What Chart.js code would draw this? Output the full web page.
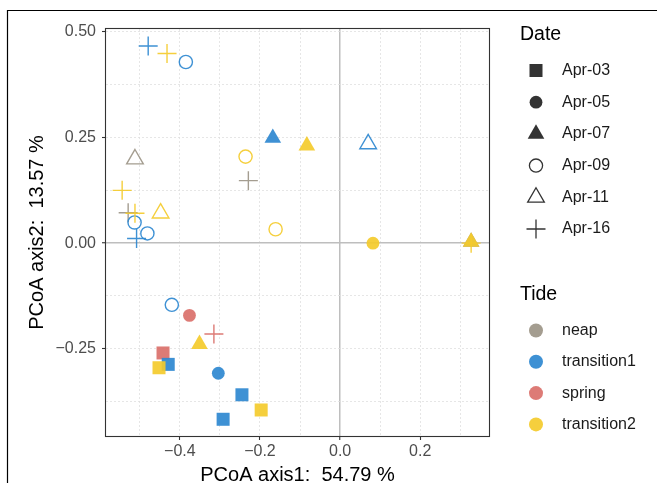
<!DOCTYPE html>
<html>
<head>
<meta charset="utf-8">
<script src="https://cdn.jsdelivr.net/npm/chart.js@4/dist/chart.umd.min.js"></script>
<style>
  html, body { margin: 0; padding: 0; background: #ffffff; }
  canvas { display: block; }
</style>
</head>
<body>
<canvas id="pcoa" width="657" height="483"></canvas>
<script>
// ---------------------------------------------
// PCoA – amostras por maré (Tide) e data (Date)
// ---------------------------------------------

// neap
const neapX    = [-0.512, -0.229, -0.529, 0.327];
const neapY    = [0.199, 0.148, 0.072, 0.003];
const neapDate = ["Apr-11", "Apr-16", "Apr-16", "Apr-07"];

// transition1
const trans1X    = [-0.479, -0.385, -0.168, 0.070, -0.513, -0.481, -0.508, -0.420, -0.429, -0.304, -0.245, -0.292];
const trans1Y    = [0.467, 0.429, 0.249, 0.235, 0.049, 0.023, 0.011, -0.146, -0.287, -0.308, -0.359, -0.417];
const trans1Date = ["Apr-16", "Apr-09", "Apr-07", "Apr-11", "Apr-09", "Apr-09", "Apr-16", "Apr-09", "Apr-03", "Apr-05", "Apr-03", "Apr-03"];

// spring
const springX    = [-0.376, -0.315, -0.442];
const springY    = [-0.171, -0.215, -0.260];
const springDate = ["Apr-05", "Apr-16", "Apr-03"];

// transition2
const trans2X    = [-0.432, -0.083, -0.236, -0.544, -0.512, -0.448, -0.161, 0.082, 0.327, 0.327, -0.351, -0.452, -0.197];
const trans2Y    = [0.449, 0.231, 0.205, 0.125, 0.071, 0.071, 0.033, 0.000, 0.003, 0.000, -0.239, -0.295, -0.395];
const trans2Date = ["Apr-16", "Apr-07", "Apr-09", "Apr-16", "Apr-16", "Apr-11", "Apr-09", "Apr-05", "Apr-07", "Apr-16", "Apr-07", "Apr-03", "Apr-03"];

// legendas
const DATAS = ["Apr-03", "Apr-05", "Apr-07", "Apr-09", "Apr-11", "Apr-16"];
const MARES = ["neap", "transition1", "spring", "transition2"];

// ticks
const X_GRADE  = [-0.5, -0.4, -0.3, -0.2, -0.1, 0, 0.1, 0.2, 0.3];
const X_ROTULO = [-0.4, -0.2, 0, 0.2];
const Y_GRADE  = [-0.375, -0.25, -0.125, 0, 0.125, 0.25, 0.375, 0.5];
const Y_ROTULO = [-0.25, 0, 0.25, 0.5];

// ---------------------------------------------
// Cores e formas
// ---------------------------------------------

const CORES = {
    neap: "rgba(156,149,135,0.92)",
    transition1: "rgba(46,136,208,0.92)",
    spring: "rgba(218,112,106,0.92)",
    transition2: "rgba(244,203,45,0.92)"
};

const FORMA = {
    "Apr-03": {estilo: "rect", raio: 9.2, cheio: true},
    "Apr-05": {estilo: "circle", raio: 6.4, cheio: true},
    "Apr-07": {estilo: "triangle", raio: 9.6, cheio: true},
    "Apr-09": {estilo: "circle", raio: 6.6, cheio: false},
    "Apr-11": {estilo: "triangle", raio: 9.6, cheio: false},
    "Apr-16": {estilo: "cross", raio: 9.5, cheio: false}
};

const FONTE = "'Liberation Sans', Arial, Helvetica, sans-serif";

function perto(a, b){
    return Math.abs(a - b) < 1e-9;
}

function temRotulo(lista, v){
    return lista.some(t => perto(t, v));
}

function montarDataset(nome, xs, ys, datas, ordem){
    const cor = CORES[nome];
    return {
        label: nome,
        order: ordem,
        data: xs.map((x, i) => ({x: x, y: ys[i]})),
        pointStyle: datas.map(d => FORMA[d].estilo),
        pointRadius: datas.map(d => FORMA[d].raio),
        pointHoverRadius: datas.map(d => FORMA[d].raio),
        pointBackgroundColor: datas.map(d => FORMA[d].cheio ? cor : "rgba(0,0,0,0)"),
        pointBorderColor: cor,
        pointBorderWidth: datas.map(d => FORMA[d].cheio ? 0 : 1.4)
    };
}

// ---------------------------------------------
// PLUGIN: moldura, borda do painel e legendas
// ---------------------------------------------

const molduraPlugin = {
    id: "moldura",
    beforeDraw(chart){
        const ctx = chart.ctx;
        ctx.save();
        ctx.strokeStyle = "#000";
        ctx.lineWidth = 1.2;
        ctx.beginPath();
        ctx.moveTo(7.5, 483);
        ctx.lineTo(7.5, 10.5);
        ctx.lineTo(657, 10.5);
        ctx.stroke();
        ctx.restore();
    },
    afterDatasetsDraw(chart){
        const {ctx, chartArea} = chart;
        ctx.save();
        ctx.strokeStyle = "#333333";
        ctx.lineWidth = 1.1;
        ctx.strokeRect(chartArea.left - 0.5, chartArea.top - 0.5,
            chartArea.right - chartArea.left + 1, chartArea.bottom - chartArea.top + 1);
        ctx.restore();
    },
    afterDraw(chart){
        const ctx = chart.ctx;
        const xSimb = 536;
        const xTexto = 562;
        ctx.save();

        // Date
        ctx.fillStyle = "#000";
        ctx.font = "19.5px " + FONTE;
        ctx.textAlign = "left";
        ctx.textBaseline = "middle";
        ctx.fillText("Date", 520, 35);

        DATAS.forEach((d, i) => {
            const y = 70.5 + i * 31.7;
            const f = FORMA[d];
            ctx.fillStyle = f.cheio ? "#333333" : "rgba(0,0,0,0)";
            ctx.strokeStyle = "#333333";
            ctx.lineWidth = 1.3;
            Chart.helpers.drawPoint(ctx, {
                pointStyle: f.estilo,
                radius: f.raio,
                rotation: 0,
                borderWidth: f.cheio ? 0 : 1.3
            }, xSimb, y);
            ctx.fillStyle = "#1A1A1A";
            ctx.font = "16px " + FONTE;
            ctx.fillText(d, xTexto, y);
        });

        // Tide
        ctx.fillStyle = "#000";
        ctx.font = "19.5px " + FONTE;
        ctx.fillText("Tide", 520, 295);

        MARES.forEach((m, i) => {
            const y = 330.5 + i * 31.3;
            ctx.fillStyle = CORES[m];
            ctx.beginPath();
            ctx.arc(xSimb, y, 7, 0, Math.PI * 2);
            ctx.fill();
            ctx.fillStyle = "#1A1A1A";
            ctx.font = "16px " + FONTE;
            ctx.fillText(m, xTexto, y);
        });

        ctx.restore();
    }
};

// ---------------------------------------------
// GRÁFICO
// ---------------------------------------------

const canvas = document.getElementById("pcoa");

new Chart(canvas, {
    type: "scatter",
    data: {
        datasets: [
            montarDataset("transition2", trans2X, trans2Y, trans2Date, 0),
            montarDataset("transition1", trans1X, trans1Y, trans1Date, 1),
            montarDataset("spring", springX, springY, springDate, 2),
            montarDataset("neap", neapX, neapY, neapDate, 3)
        ]
    },
    options: {
        responsive: false,
        animation: false,
        layout: {
            padding: {left: 0, top: 29, right: 168, bottom: 0}
        },
        plugins: {
            legend: {display: false},
            tooltip: {enabled: false}
        },
        scales: {
            x: {
                type: "linear",
                min: -0.5843,
                max: 0.3716,
                afterBuildTicks(scale){
                    scale.ticks = X_GRADE.map(v => ({value: v}));
                },
                afterFit(scale){
                    scale.height = 47;
                },
                border: {
                    display: false,
                    dash: ctx => (ctx.tick && perto(ctx.tick.value, 0)) ? [] : [2, 2]
                },
                grid: {
                    color: ctx => (ctx.tick && perto(ctx.tick.value, 0)) ? "#BEBEBE" : "#E0E0E0",
                    lineWidth: ctx => (ctx.tick && perto(ctx.tick.value, 0)) ? 1.5 : 0.8,
                    tickColor: ctx => (ctx.tick && temRotulo(X_ROTULO, ctx.tick.value)) ? "#333333" : "rgba(0,0,0,0)",
                    tickWidth: 1.1,
                    tickLength: 4
                },
                ticks: {
                    autoSkip: false,
                    maxRotation: 0,
                    padding: 2,
                    color: "#4D4D4D",
                    font: {family: FONTE, size: 16},
                    callback: v => temRotulo(X_ROTULO, v) ? v.toFixed(1).replace("-", "\u2212") : ""
                },
                title: {
                    display: true,
                    text: "PCoA axis1:  54.79 %",
                    color: "#000",
                    font: {family: FONTE, size: 20},
                    padding: {top: 0, bottom: -4}
                }
            },
            y: {
                type: "linear",
                min: -0.4566,
                max: 0.5071,
                afterBuildTicks(scale){
                    scale.ticks = Y_GRADE.map(v => ({value: v}));
                },
                afterFit(scale){
                    scale.width = 106;
                },
                border: {
                    display: false,
                    dash: ctx => (ctx.tick && perto(ctx.tick.value, 0)) ? [] : [2, 2]
                },
                grid: {
                    color: ctx => (ctx.tick && perto(ctx.tick.value, 0)) ? "#BEBEBE" : "#E0E0E0",
                    lineWidth: ctx => (ctx.tick && perto(ctx.tick.value, 0)) ? 1.5 : 0.8,
                    tickColor: ctx => (ctx.tick && temRotulo(Y_ROTULO, ctx.tick.value)) ? "#333333" : "rgba(0,0,0,0)",
                    tickWidth: 1.1,
                    tickLength: 4
                },
                ticks: {
                    autoSkip: false,
                    padding: 6,
                    color: "#4D4D4D",
                    font: {family: FONTE, size: 16},
                    callback: v => temRotulo(Y_ROTULO, v) ? v.toFixed(2).replace("-", "\u2212") : ""
                },
                title: {
                    display: true,
                    text: "PCoA axis2:  13.57 %",
                    color: "#000",
                    font: {family: FONTE, size: 20},
                    padding: {top: 25, bottom: 0}
                }
            }
        }
    },
    plugins: [molduraPlugin]
});
</script>
</body>
</html>
